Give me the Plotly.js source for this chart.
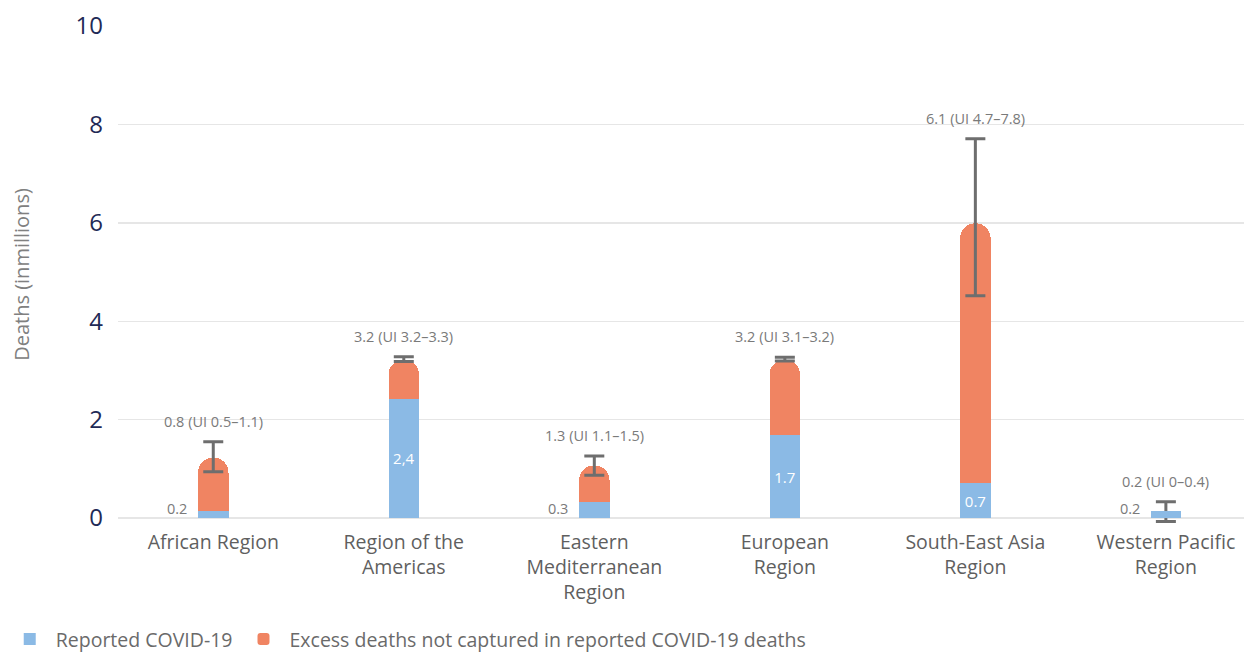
<!DOCTYPE html>
<html>
<head>
<meta charset="utf-8">
<script src="https://cdn.plot.ly/plotly-3.0.1.min.js"></script>
<style>html,body{margin:0;padding:0;background:#fff;}#chart{width:1244px;height:658px;}</style>
</head>
<body>
<div id="chart"></div>
<script>
// Data (millions of deaths)
const regions = ['African Region', 'Region of the<br>Americas', 'Eastern<br>Mediterranean<br>Region', 'European<br>Region', 'South-East Asia<br>Region', 'Western Pacific<br>Region'];
const reported = [0.15, 2.43, 0.32, 1.68, 0.71, 0.15];
const excess = [1.08, 0.79, 0.75, 1.54, 5.28, 0];
const uiLow = [0.94, 3.18, 0.87, 3.19, 4.52, -0.07];
const uiHigh = [1.55, 3.28, 1.26, 3.27, 7.71, 0.33];
const reportedLabels = ['0.2', '2,4', '0.3', '1.7', '0.7', '0.2'];
const totalLabels = ['0.8 (UI 0.5–1.1)', '3.2 (UI 3.2–3.3)', '1.3 (UI 1.1–1.5)', '3.2 (UI 3.1–3.2)', '6.1 (UI 4.7–7.8)', '0.2 (UI 0–0.4)'];

const BLUE = '#8bbae5', ORANGE = '#f08462', GREY = '#6e6e6e';
const FONT = 'Open Sans, sans-serif';
const x = regions.map((_, i) => i);
const totals = reported.map((r, i) => r + excess[i]);
const insideText = reported.map((r, i) => r > 0.5 ? reportedLabels[i] : '');
const withExcess = x.filter(i => excess[i] > 0);
const withoutExcess = x.filter(i => !(excess[i] > 0));

const traces = [
  {
    type: 'bar', name: 'Reported COVID-19', x: withExcess, y: withExcess.map(i => reported[i]),
    marker: {color: BLUE, line: {width: 0}},
    text: withExcess.map(i => insideText[i]), textposition: 'inside', insidetextanchor: 'middle',
    textfont: {color: '#ffffff', size: 15, family: FONT},
    hoverinfo: 'none', legendgroup: 'rep'
  },
  {
    type: 'bar', name: 'Excess deaths not captured in reported COVID-19 deaths',
    x: withExcess, y: withExcess.map(i => excess[i]),
    marker: {color: ORANGE, line: {width: 0}, cornerradius: '50%'},
    hoverinfo: 'none'
  },
  {
    // reported-only bars (square ends), on an overlaying axis so they form their own stack
    type: 'bar', name: 'Reported COVID-19', x: withoutExcess, y: withoutExcess.map(i => reported[i]),
    xaxis: 'x2', marker: {color: BLUE, line: {width: 0}, cornerradius: 0},
    text: withoutExcess.map(i => insideText[i]), textposition: 'inside',
    textfont: {color: '#ffffff', size: 15, family: FONT},
    hoverinfo: 'none', showlegend: false, legendgroup: 'rep'
  },
  {
    type: 'scatter', mode: 'markers', x: x, y: totals, showlegend: false,
    marker: {opacity: 0, size: 1},
    error_y: {type: 'data', symmetric: false,
      array: uiHigh.map((h, i) => h - totals[i]),
      arrayminus: uiLow.map((l, i) => totals[i] - l),
      color: GREY, thickness: 3, width: 10},
    hoverinfo: 'none'
  }
];

const annotations = [];
totalLabels.forEach((t, i) => {
  annotations.push({x: i, y: uiHigh[i], text: t, showarrow: false, xref: 'x', yref: 'y',
    yanchor: 'bottom', yshift: 9, font: {size: 14.5, color: '#7a7a7a', family: FONT}});
});
reported.forEach((r, i) => {
  if (r <= 0.5) {
    annotations.push({x: i, y: 0, text: reportedLabels[i], showarrow: false, xref: 'x', yref: 'y',
      xanchor: 'right', yanchor: 'bottom', xshift: -24, yshift: -2,
      font: {size: 14.5, color: '#7a7a7a', family: FONT}});
  }
});

const xRange = [-0.5, 5.41];
const layout = {
  width: 1244, height: 658,
  margin: {l: 118, r: 0, t: 26, b: 135},
  paper_bgcolor: '#ffffff', plot_bgcolor: '#ffffff',
  barmode: 'stack', bargap: 0.84,
  showlegend: true,
  legend: {orientation: 'h', xref: 'container', yref: 'container', x: 0.003, y: 0.058, xanchor: 'left', yanchor: 'top',
    font: {size: 19.5, color: '#6a6a6a', family: FONT}, traceorder: 'normal', itemwidth: 42},
  xaxis: {
    range: xRange, tickmode: 'array', tickvals: x, ticktext: regions,
    showgrid: false, zeroline: false, showline: false, ticks: '',
    ticklabelstandoff: 5,
    tickfont: {size: 19.5, color: '#5f5f5f', family: FONT}
  },
  xaxis2: {
    range: xRange, overlaying: 'x', matches: 'x', visible: false, showgrid: false, zeroline: false
  },
  yaxis: {
    range: [-0.1, 10], tickmode: 'array', tickvals: [0, 2, 4, 6, 8, 10],
    showgrid: true, gridcolor: '#e6e6e6', gridwidth: 1.5, zeroline: false, showline: false, ticks: '',
    ticklabelstandoff: 14,
    tickfont: {size: 24, color: '#1f2a56', family: FONT},
    title: {text: 'Deaths (inmillions)', font: {size: 20, color: '#808080', family: FONT}, standoff: 40}
  },
  annotations: annotations
};

Plotly.newPlot('chart', traces, layout, {displayModeBar: false, staticPlot: true});
</script>
</body>
</html>
